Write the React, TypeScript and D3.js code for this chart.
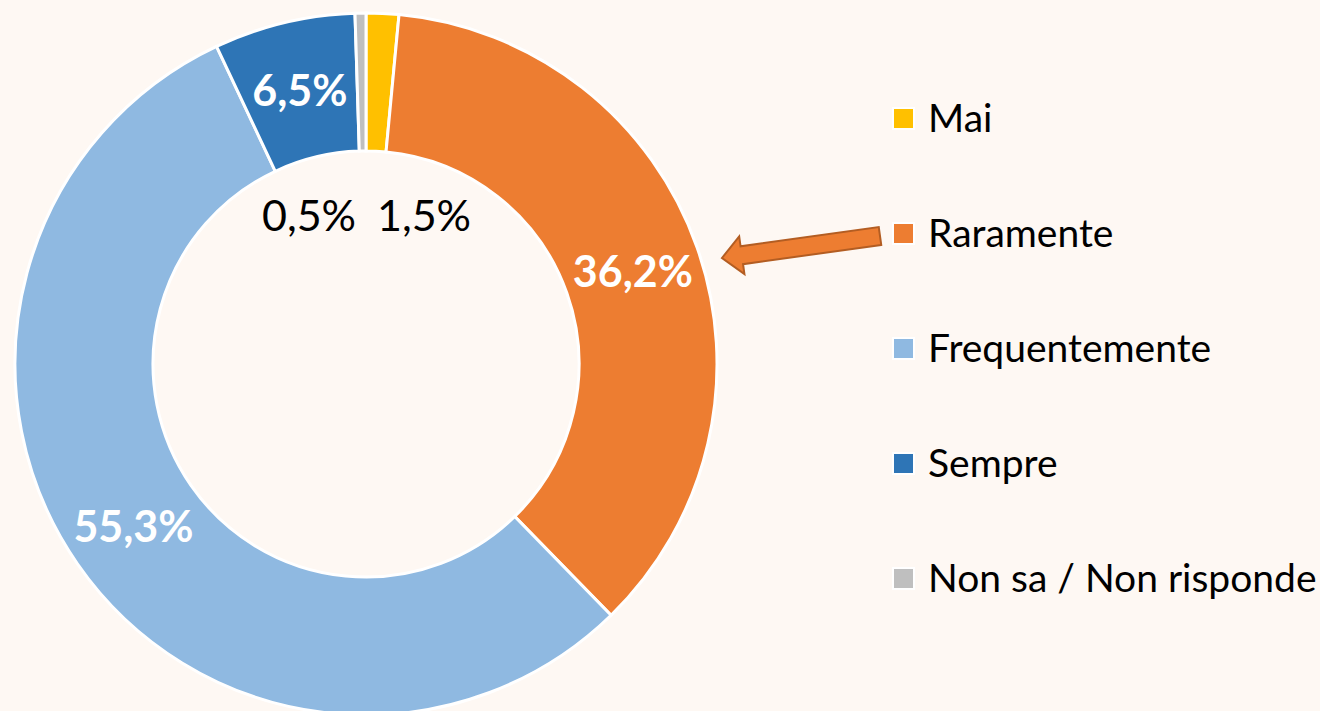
import React from "react";
import * as d3 from "d3";

const categories = ["Mai", "Raramente", "Frequentemente", "Sempre", "Non sa / Non risponde"];
const values = [1.5, 36.2, 55.3, 6.5, 0.5];
const labels = ["1,5%", "36,2%", "55,3%", "6,5%", "0,5%"];
const colors = ["#FFC000", "#ED7D31", "#8FB9E1", "#2E75B6", "#BFBFBF"];

const W = 1320, H = 711;
const cx = 366, cy = 364, R = 351, r0 = 213;
const FONT = "Lato, 'Open Sans', sans-serif";

export default function App() {
  const pie = d3.pie<number>().sort(null).value((d) => d).startAngle(0).endAngle(2 * Math.PI);
  const arcs = pie(values);
  const arc = d3.arc<d3.PieArcDatum<number>>().innerRadius(r0).outerRadius(R);
  const labelArc = d3.arc<d3.PieArcDatum<number>>().innerRadius(283).outerRadius(283);

  // arrow geometry (tail -> tip)
  const tail: [number, number] = [880, 236];
  const tip: [number, number] = [722, 258];
  const ang = Math.atan2(tip[1] - tail[1], tip[0] - tail[0]) * 180 / Math.PI;
  const L = Math.hypot(tip[0] - tail[0], tip[1] - tail[1]);
  const sw = 9, hl = 20, hw = 19;
  const arrowPts = [
    [0, -sw], [L - hl, -sw], [L - hl, -hw], [L, 0], [L - hl, hw], [L - hl, sw], [0, sw],
  ].map((p) => p.join(",")).join(" ");

  return (
    <svg width={W} height={H} style={{ position: "absolute", left: 0, top: 0, background: "#FEF8F3" }}>
      <rect width={W} height={H} fill="#FEF8F3" />
      <g transform={`translate(${cx},${cy})`}>
        {arcs.map((a, i) => (
          <path key={i} d={arc(a) || ""} fill={colors[i]} stroke="#FFFFFF" strokeWidth={3} />
        ))}
        {arcs.map((a, i) => {
          if (values[i] < 3) return null;
          const [x, y] = labelArc.centroid(a);
          return (
            <text key={"l" + i} x={x} y={y + 2} dy="0.35em" textAnchor="middle" fill="#FFFFFF"
              fontFamily={FONT} fontWeight="bold" fontSize={43}>{labels[i]}</text>
          );
        })}
      </g>
      <text x={309} y={216} dy="0.35em" textAnchor="middle" fill="#000" fontFamily={FONT} fontSize={43}>{labels[4]}</text>
      <text x={424} y={216} dy="0.35em" textAnchor="middle" fill="#000" fontFamily={FONT} fontSize={43}>{labels[0]}</text>
      <polygon points={arrowPts} transform={`translate(${tail[0]},${tail[1]}) rotate(${ang})`}
        fill="#ED7D31" stroke="#B35D22" strokeWidth={2} strokeLinejoin="miter" />
      {categories.map((c, i) => {
        const y = 118 + i * 115;
        return (
          <g key={"g" + i}>
            <rect x={893} y={y - 10} width={21} height={21} fill={colors[i]} stroke="#FFFFFF" strokeWidth={2} />
            <text x={928} y={y} dy="0.35em" fill="#000" fontFamily={FONT} fontSize={39}>{c}</text>
          </g>
        );
      })}
    </svg>
  );
}
